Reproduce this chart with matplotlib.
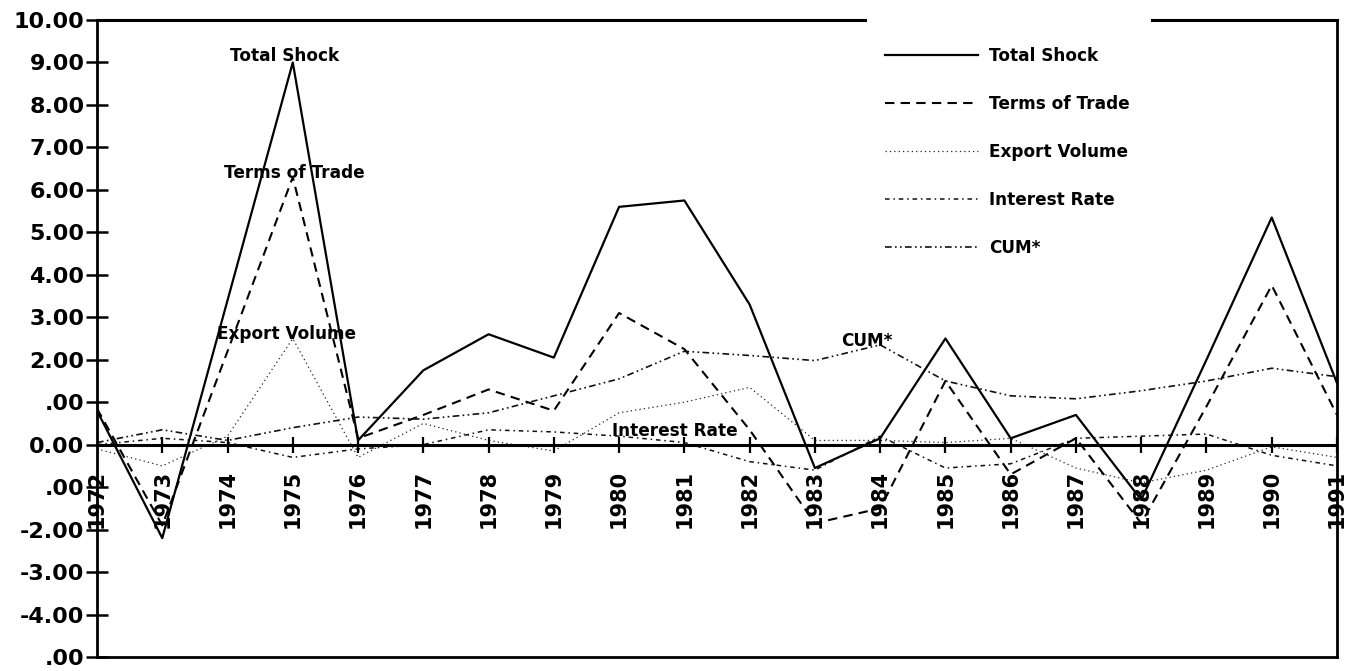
import matplotlib
matplotlib.use("Agg")
import matplotlib.pyplot as plt

years = [1972, 1973, 1974, 1975, 1976, 1977, 1978, 1979, 1980, 1981,
         1982, 1983, 1984, 1985, 1986, 1987, 1988, 1989, 1990, 1991]
total_shock = [0.8, -2.2, 3.4, 9.0, 0.1, 1.75, 2.6, 2.05, 5.6, 5.75,
               3.3, -0.55, 0.15, 2.5, 0.15, 0.7, -1.3, 2.0, 5.35, 1.45]
terms_of_trade = [0.85, -1.9, 2.2, 6.3, 0.15, 0.7, 1.3, 0.8, 3.1, 2.25,
                  0.35, -1.85, -1.5, 1.5, -0.7, 0.15, -1.85, 0.9, 3.75, 0.7]
export_volume = [-0.1, -0.5, 0.2, 2.5, -0.3, 0.5, 0.1, -0.15, 0.75, 1.0,
                 1.35, 0.1, 0.1, 0.05, 0.15, -0.55, -0.9, -0.6, -0.05, -0.3]
interest_rate = [0.0, 0.15, 0.05, -0.3, -0.1, 0.0, 0.35, 0.3, 0.2, 0.05,
                 -0.4, -0.6, 0.2, -0.55, -0.45, 0.15, 0.2, 0.25, -0.25, -0.5]
cum = [0.05, 0.35, 0.1, 0.4, 0.65, 0.6, 0.75, 1.15, 1.55, 2.2,
       2.1, 1.98, 2.35, 1.5, 1.15, 1.08, 1.27, 1.5, 1.8, 1.6]

y_ticks = [10, 9, 8, 7, 6, 5, 4, 3, 2, 1, 0, -1, -2, -3, -4, -5]
y_tick_labels = ["10.00", "9.00", "8.00", "7.00", "6.00", "5.00", "4.00", "3.00",
                 "2.00", ".00", "0.00", ".00", "-2.00", "-3.00", "-4.00", ".00"]

series_names = ["Total Shock", "Terms of Trade", "Export Volume", "Interest Rate", "CUM*"]

plt.rcParams['font.family'] = ['DejaVu Sans']
plt.rcParams['font.weight'] = 'bold'

fig = plt.figure(figsize=(13.52, 6.71), dpi=100)
ax = fig.add_axes([97/1352, 1 - 657/671, 1240/1352, 637/671])

ax.plot(years, total_shock, color='black', lw=1.6, ls='-', label=series_names[0])
ax.plot(years, terms_of_trade, color='black', lw=1.5, ls=(0, (4.5, 3)), label=series_names[1])
ax.plot(years, export_volume, color='#222222', lw=0.9, ls=(0, (1, 2.5)), label=series_names[2])
ax.plot(years, interest_rate, color='#111111', lw=1.1, ls=(0, (3, 2.5, 1, 2.5)), label=series_names[3])
ax.plot(years, cum, color='#111111', lw=1.2, ls=(0, (4, 2, 1, 2, 1, 2)), label=series_names[4])

# zero line with year ticks
ax.axhline(0, color='black', lw=2.2, zorder=3)
ax.plot(years, [0] * len(years), ls='none', marker='|', markersize=11.5,
        markeredgewidth=1.6, color='black', zorder=3)
for yr in years:
    ax.text(yr, -0.6, str(yr), rotation=90, ha='center', va='top',
            fontsize=15, fontweight='bold')

ax.set_xlim(years[0], years[-1])
ax.set_ylim(-5, 10)
ax.set_xticks([])
ax.set_yticks(y_ticks)
ax.set_yticklabels(y_tick_labels, fontsize=16, fontweight='bold')
ax.tick_params(axis='y', direction='inout', length=16, width=1.8, pad=1)

for side in ['left', 'bottom', 'right']:
    ax.spines[side].set_linewidth(2)
ax.spines['top'].set_visible(False)
ax.plot([0, 0.619], [1, 1], transform=ax.transAxes, color='black', lw=2.2, clip_on=False)
ax.plot([0.851, 1], [1, 1], transform=ax.transAxes, color='black', lw=2.2, clip_on=False)

# inline labels
lab_fs = 12.2
ax.text(1974.88, 9.15, "Total Shock", ha='center', va='center', fontsize=lab_fs, fontweight='bold')
ax.text(1975.03, 6.4, "Terms of Trade", ha='center', va='center', fontsize=lab_fs, fontweight='bold')
ax.text(1974.9, 2.6, "Export Volume", ha='center', va='center', fontsize=lab_fs, fontweight='bold')
ax.text(1980.85, 0.33, "Interest Rate", ha='center', va='center', fontsize=lab_fs, fontweight='bold')
ax.text(1983.8, 2.45, "CUM*", ha='center', va='center', fontsize=lab_fs, fontweight='bold')

leg = ax.legend(loc='upper left', bbox_to_anchor=(0.630, 0.969), frameon=False,
                prop={'size': lab_fs, 'weight': 'bold'}, handlelength=5.5,
                handletextpad=0.65, labelspacing=1.78, borderaxespad=0)

fig.savefig("out.png", dpi=100)
